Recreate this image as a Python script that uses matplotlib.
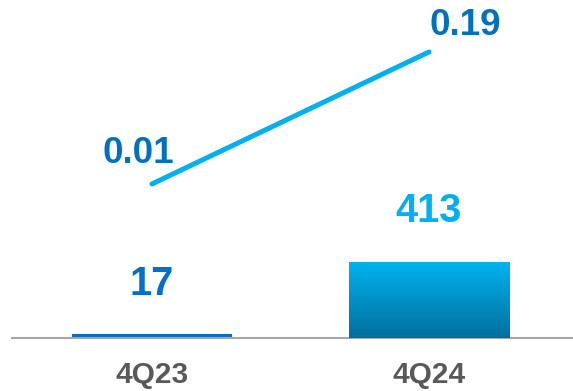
import matplotlib.pyplot as plt
import numpy as np
from matplotlib.colors import LinearSegmentedColormap

quarters = ["4Q23", "4Q24"]
bar_values = [17, 413]
line_values = [0.01, 0.19]

plt.rcParams["font.family"] = ["Liberation Sans", "DejaVu Sans"]
plt.rcParams["font.weight"] = "bold"

fig = plt.figure(figsize=(5.73, 3.91), dpi=100)
ax = fig.add_axes([12 / 573, 0.1368, 1 - 12 / 573, 1 - 0.1368])
x = np.arange(len(quarters))

bars = ax.bar(x, bar_values, width=0.578, color=["#0a6cc4", "#00a8e8"], zorder=2)
ax.set_xlim(-0.505, 1.52)
ax.set_ylim(0, 1834)

# vertical gradient on the second bar
grad = LinearSegmentedColormap.from_list("g", ["#006f9e", "#00b4f0"])
b = bars[1]
img = ax.imshow(
    np.linspace(0, 1, 256).reshape(-1, 1),
    cmap=grad,
    origin="lower",
    aspect="auto",
    extent=[b.get_x(), b.get_x() + b.get_width(), 0, b.get_height()],
    zorder=3,
)
img.set_clip_path(b)

label_colors = ["#0070c8", "#00b0f0"]
for xi, v, c in zip(x, bar_values, label_colors):
    ax.annotate(f"{v}", (xi, v), xytext=(0, 36.5), textcoords="offset points",
                ha="center", va="center", fontsize=28.5, fontweight="bold", color=c)

for s in ["top", "right", "left"]:
    ax.spines[s].set_visible(False)
ax.spines["bottom"].set_color("#a6a6a6")
ax.spines["bottom"].set_linewidth(1.5)
ax.set_yticks([])
ax.set_xticks(x)
ax.set_xticklabels(quarters, fontsize=21.5, fontweight="bold", color="#595959")
ax.tick_params(axis="x", length=0, pad=17)

ax2 = ax.twinx()
ax2.set_ylim(-0.1994, 0.2609)
ax2.axis("off")
ax2.plot(x, line_values, color="#00b0f0", linewidth=3.6, solid_capstyle="round")
offsets = [(-10, 22), (26, 19)]
for xi, v, off in zip(x, line_values, offsets):
    ax2.annotate(f"{v:.2f}", (xi, v), xytext=off, textcoords="offset points",
                 ha="center", va="center", fontsize=26.5, fontweight="bold", color="#0070c0")

fig.savefig("out.png", dpi=100)
